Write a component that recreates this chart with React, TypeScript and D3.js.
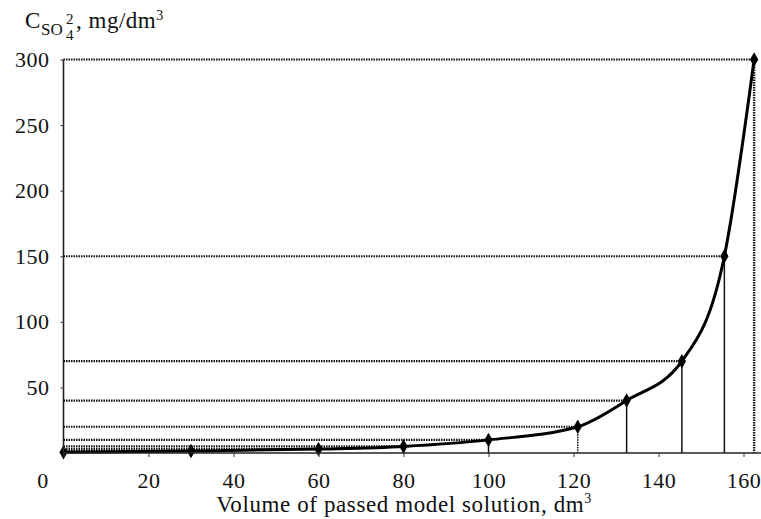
import React, { useEffect, useRef } from 'react'
import * as d3 from 'd3'

// volume of passed model solution, dm3
const volumes = [0, 30, 60, 80, 100, 121, 132.5, 145.5, 155.5, 162.5]
// sulphate concentration, mg/dm3
const concentrations = [0.5, 1.5, 3, 5, 10, 20, 40, 70, 150, 300]
const xTicks = [0, 20, 40, 60, 80, 100, 120, 140, 160]
const yTicks = [50, 100, 150, 200, 250, 300]

const W = 761
const H = 519

function App() {
  const ref = useRef<SVGSVGElement>(null)

  useEffect(() => {
    const svg = d3.select(ref.current)
    svg.selectAll('*').remove()

    const font = "'Liberation Serif', 'Times New Roman', 'DejaVu Serif', serif"
    const x = d3.scaleLinear().domain([0, 160]).range([63.5, 743.5])
    const y = d3.scaleLinear().domain([0, 300]).range([453, 59.5])

    const data = volumes.map((v, i) => ({ v: v, c: concentrations[i] }))
    const g = svg.append('g')

    // guide lines from each point to the axes
    g.selectAll('line.h')
      .data(data)
      .enter()
      .append('line')
      .attr('class', 'h')
      .attr('x1', x(0))
      .attr('x2', d => x(d.v))
      .attr('y1', d => y(d.c))
      .attr('y2', d => y(d.c))
      .attr('stroke', '#111')
      .attr('stroke-width', 2.2)
      .attr('stroke-dasharray', '1.5 1')

    g.selectAll('line.v')
      .data(data)
      .enter()
      .append('line')
      .attr('class', 'v')
      .attr('x1', d => x(d.v))
      .attr('x2', d => x(d.v))
      .attr('y1', d => y(d.c))
      .attr('y2', y(0))
      .attr('stroke', '#111')
      .attr('stroke-width', d => (d.c >= 300 ? 2.4 : 1.5))
      .attr('stroke-dasharray', d => (d.c >= 300 || d.c === 20 ? '1.5 1' : null))

    // the curve
    const line = d3.line<{ v: number; c: number }>()
      .x(d => x(d.v))
      .y(d => y(d.c))
      .curve(d3.curveMonotoneX)

    g.append('path')
      .datum(data)
      .attr('fill', 'none')
      .attr('stroke', '#000')
      .attr('stroke-width', 3)
      .attr('d', line)

    g.selectAll('path.pt')
      .data(data)
      .enter()
      .append('path')
      .attr('class', 'pt')
      .attr('d', d3.symbol().type(d3.symbolDiamond).size(60))
      .attr('transform', d => 'translate(' + x(d.v) + ',' + y(d.c) + ')')
      .attr('fill', '#000')

    // axes
    const xAxis = g.append('g')
      .attr('transform', 'translate(0,' + y(0) + ')')
      .call(d3.axisBottom(x).tickValues(xTicks).tickSize(4).tickSizeOuter(0).tickPadding(15))
    xAxis.attr('font-family', null)
    xAxis.select('.domain').attr('d', 'M' + x(0) + ',0H' + W).attr('stroke', '#222').attr('stroke-width', 1.6)
    xAxis.selectAll('text')
      .style('font-family', font)
      .style('font-size', '22px')
      .style('letter-spacing', '0.5px')
      .attr('fill', '#111')
      .attr('dx', (d: any) => (d === 0 ? -21 : 0))
    xAxis.selectAll('.tick line').attr('stroke', '#333')

    const yAxis = g.append('g')
      .attr('transform', 'translate(' + x(0) + ',0)')
      .call(d3.axisLeft(y).tickValues(yTicks).tickSize(3).tickSizeOuter(0).tickPadding(11))
    yAxis.attr('font-family', null)
    yAxis.select('.domain').attr('d', 'M0,' + y(0) + 'V' + y(300)).attr('stroke', '#222').attr('stroke-width', 1.6)
    yAxis.selectAll('text')
      .style('font-family', font)
      .style('font-size', '22px')
      .style('letter-spacing', '0.5px')
      .attr('fill', '#111')
    yAxis.selectAll('.tick line').attr('stroke', '#333')

    // axis titles
    const title = svg.append('text')
      .style('font-family', font)
      .style('font-size', '23px')
      .attr('fill', '#111')
    title.append('tspan').attr('x', 25).attr('y', 28).text('C')
    title.append('tspan').attr('x', 41).attr('y', 35).style('font-size', '17px').text('SO')
    title.append('tspan').attr('x', 66).attr('y', 40).style('font-size', '15px').text('4')
    title.append('tspan').attr('x', 66).attr('y', 24).style('font-size', '15px').text('2')
    title.append('tspan').attr('x', 76).attr('y', 28).style('letter-spacing', '0.5px').text(', mg/dm')
    title.append('tspan').attr('dy', -8).style('font-size', '14px').text('3')

    const xt = svg.append('text')
      .style('font-family', font)
      .style('font-size', '23px')
      .style('letter-spacing', '0.6px')
      .attr('fill', '#111')
      .attr('text-anchor', 'middle')
      .attr('x', 404)
      .attr('y', 512)
    xt.append('tspan').text('Volume of passed model solution, dm')
    xt.append('tspan').attr('dy', -9).style('font-size', '14px').text('3')
  }, [])

  return (
    <div style={{ position: 'absolute', left: 0, top: 0 }}>
      <svg ref={ref} width={W} height={H} style={{ display: 'block', background: '#fff' }}></svg>
    </div>
  )
}

export default App
